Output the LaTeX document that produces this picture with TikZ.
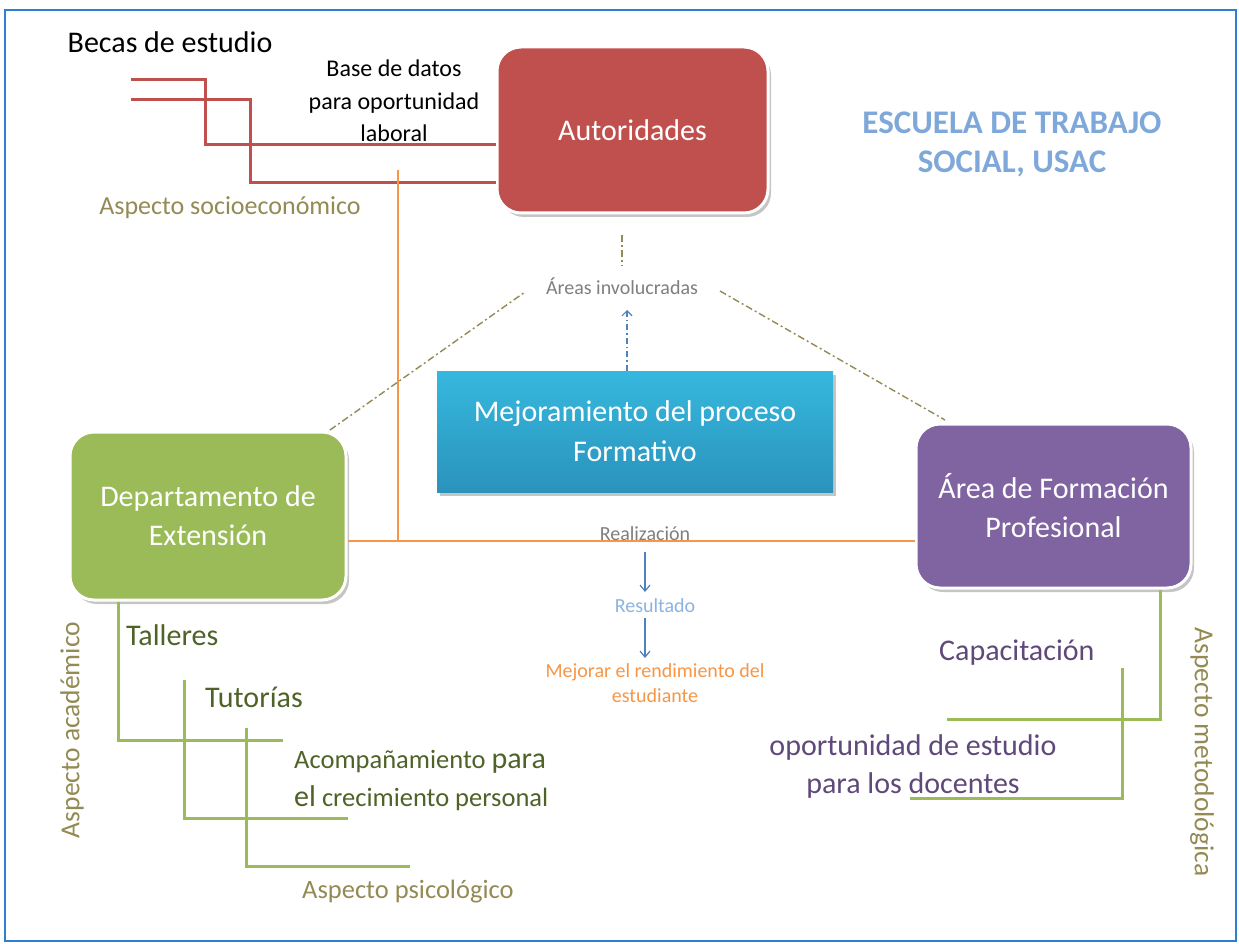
\documentclass[tikz,border=0pt]{standalone}
\usepackage{fontspec}
\setmainfont{Carlito}
\usetikzlibrary{shadows,arrows.meta}
\definecolor{cred}{HTML}{C0504D}
\definecolor{cgreen}{HTML}{9BBB59}
\definecolor{cpurple}{HTML}{8064A2}
\definecolor{ccyantop}{HTML}{36B8DE}
\definecolor{ccyanbot}{HTML}{2A93BC}
\definecolor{cblue}{HTML}{4F81BD}
\definecolor{corange}{HTML}{F79646}
\definecolor{colive}{HTML}{948A54}
\definecolor{cdkgreen}{HTML}{4F6228}
\definecolor{cdkpurple}{HTML}{5F497A}
\definecolor{cgray}{HTML}{7F7F7F}
\definecolor{clblue}{HTML}{8DB3E2}
\definecolor{ctitle}{HTML}{7FA8DA}
\definecolor{cframe}{HTML}{2F7FD0}
\tikzset{
  box/.style={draw=white, line width=3pt, rounded corners=24pt, text=white, align=center, font=\fontsize{30}{39}\selectfont, inner sep=0pt, drop shadow={shadow xshift=3pt, shadow yshift=-4pt, opacity=0.45}},
  redline/.style={cred, line width=3pt},
  greenline/.style={cgreen, line width=3pt},
  orangeline/.style={corange, line width=1.5pt},
  ddline/.style={colive, line width=1.4pt, dash pattern=on 7pt off 3pt on 2pt off 3pt},
  lbl/.style={align=center, inner sep=0pt},
}
\begin{document}
\begin{tikzpicture}[x=1pt,y=-1pt]
\useasboundingbox (0,0) rectangle (1239,944);
\fill[white] (0,0) rectangle (1239,944);
\draw[cframe, line width=1.2pt] (5,10) rectangle (1236,941);

% boxes
\node[box, fill=cred, minimum width=271pt, minimum height=166pt] (aut) at (632.5,130) {Autoridades};
\node[draw=none, top color=ccyantop, bottom color=ccyanbot, text=white, align=center, font=\fontsize{30}{40}\selectfont, minimum width=396pt, minimum height=121pt, inner sep=0pt, drop shadow={shadow xshift=3pt, shadow yshift=-4pt, opacity=0.45}] (mej) at (635,431.5) {Mejoramiento del proceso\\Formativo};
\node[box, fill=cgreen, minimum width=276pt, minimum height=168pt] (dep) at (208,516) {Departamento de\\Extensión};
\node[box, fill=cpurple, minimum width=275pt, minimum height=164pt] (are) at (1053.5,506) {Área de Formación\\Profesional};

% title
\node[lbl, text=ctitle, font=\fontsize{33}{39}\selectfont\bfseries] (tit) at (1012,144) {ESCUELA DE TRABAJO\\SOCIAL, USAC};

% top left
\node[lbl, font=\fontsize{30}{32}\selectfont] (becas) at (170,42) {Becas de estudio};
\node[lbl, font=\fontsize{24}{32.5}\selectfont] (base) at (394,101) {Base de datos\\para oportunidad\\laboral};
\node[lbl, text=colive, font=\fontsize{26}{28}\selectfont] (soc) at (230,208) {Aspecto socioeconómico};

\coordinate (r1s) at (131,80);
\coordinate (r2s) at (131,100);
\draw[redline] (r1s) -- (205,80) -- (205,145) -- (aut.west |- 0,145);
\draw[redline] (r2s) -- (250,100) -- (250,183) -- (aut.west |- 0,183);

% orange lines
\coordinate (ot) at (398,170);
\draw[orangeline] (ot) -- (398,541);
\draw[orangeline] (dep.east |- 0,541) -- (are.west |- 0,541);

% center labels
\node[lbl, text=cgray, font=\fontsize{20}{22}\selectfont] (real) at (645,534) {Realización};
\node[lbl, text=clblue, font=\fontsize{20}{22}\selectfont] (res) at (655,606) {Resultado};
\node[lbl, text=corange, font=\fontsize{20}{25}\selectfont] (mejr) at (655,683) {Mejorar el rendimiento del\\estudiante};
\draw[cblue, line width=1.2pt, -{Straight Barb[length=6pt,width=10pt]}] (645,552) -- (645,592);
\draw[cblue, line width=1.2pt, -{Straight Barb[length=6pt,width=10pt]}] (645,618) -- (645,658);

\node[lbl, text=cgray, font=\fontsize{20}{22}\selectfont] (areas) at (622,286) {Áreas involucradas};
\draw[ddline] (622,235) -- (622,266);
\draw[ddline] (330,430) -- (525,292);
\draw[ddline] (720,291) -- (945,420);
\draw[cblue, line width=1.2pt, dash pattern=on 6pt off 3pt on 1.5pt off 3pt, -{Straight Barb[length=5pt,width=10pt]}] (mej.north -| 627,0) -- (627,310);

% bottom left
\node[lbl, text=colive, font=\fontsize{27.5}{30}\selectfont, rotate=90] (acad) at (72,730) {Aspecto académico};
\draw[greenline] (dep.south -| 118,0) -- (118,740) -- (283,740);
\draw[greenline] (184,680) -- (184,818) -- (348,818);
\draw[greenline] (246,728) -- (246,866) -- (410,866);
\node[lbl, anchor=west, text=cdkgreen, font=\fontsize{30}{32}\selectfont] (tal) at (126,635) {Talleres};
\node[lbl, anchor=west, text=cdkgreen, font=\fontsize{30}{32}\selectfont] (tut) at (205,697) {Tutorías};
\node[lbl, anchor=west, align=left, text=cdkgreen, font=\fontsize{26.5}{38}\selectfont] (aco) at (294,781) {Acompañamiento {\fontsize{30}{38}\selectfont para}\\{\fontsize{30}{38}\selectfont el} crecimiento personal};
\node[lbl, anchor=west, text=colive, font=\fontsize{26.5}{28}\selectfont] (psi) at (302,892) {Aspecto psicológico};

% bottom right
\draw[greenline] (are.south -| 1160,0) -- (1160,719) -- (947,719);
\draw[greenline] (1122,668) -- (1122,798) -- (910,798);
\node[lbl, anchor=west, text=cdkpurple, font=\fontsize{30}{32}\selectfont] (cap) at (939,653) {Capacitación};
\node[lbl, text=cdkpurple, font=\fontsize{30}{38}\selectfont] (opo) at (913,766) {oportunidad de estudio\\para los docentes};
\node[lbl, text=colive, font=\fontsize{27.5}{30}\selectfont, rotate=-90] (met) at (1202,752) {Aspecto metodológica};
\end{tikzpicture}
\end{document}
